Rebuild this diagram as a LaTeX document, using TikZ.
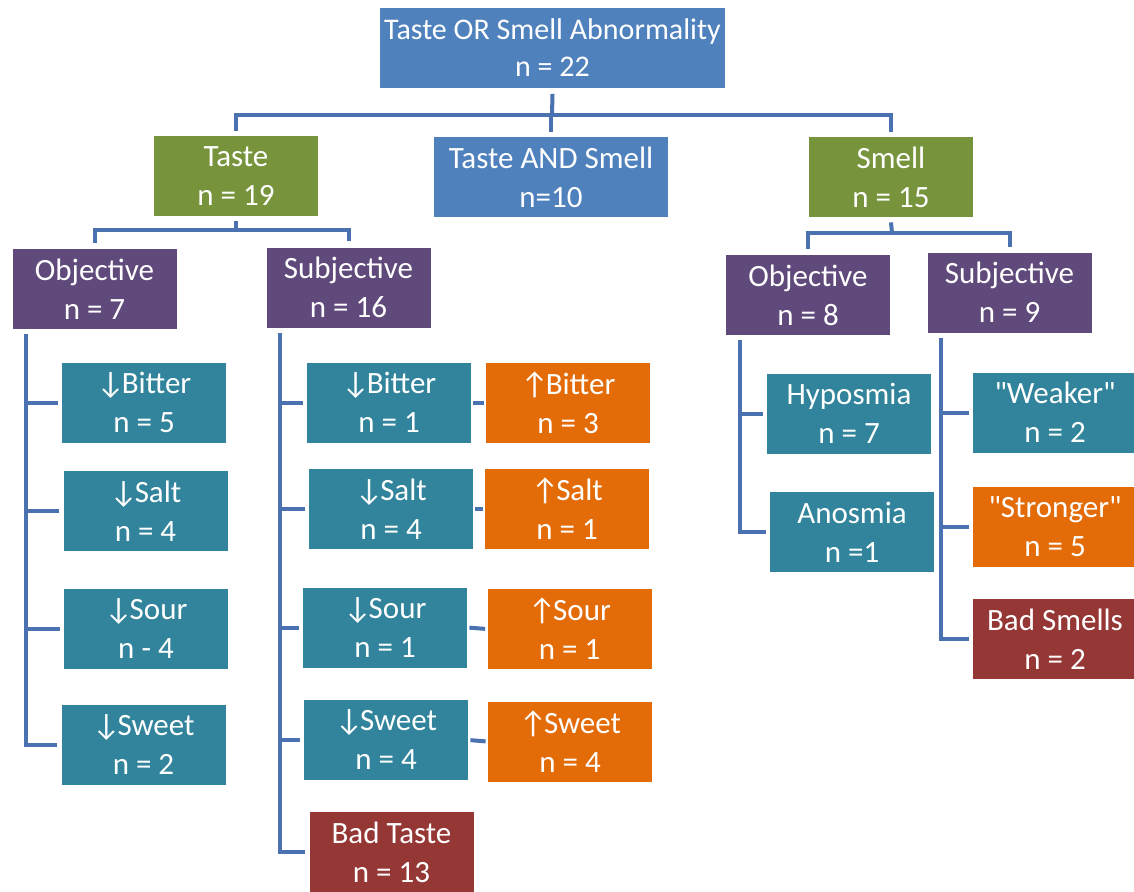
\documentclass[tikz,border=0pt]{standalone}
\usepackage{fontspec}
\setmainfont{Carlito}[Ligatures=TeXOff]
\usetikzlibrary{calc}
\definecolor{topblue}{HTML}{4F81BD}
\definecolor{groupgreen}{HTML}{77933C}
\definecolor{kindpurple}{HTML}{604A7B}
\definecolor{lowteal}{HTML}{31849B}
\definecolor{highorange}{HTML}{E36C09}
\definecolor{badred}{HTML}{953735}
\definecolor{linkblue}{HTML}{4A72B0}
\newcommand{\lessof}{↓\kern-1.5pt}
\newcommand{\moreof}{↑\kern-1.5pt}

\begin{document}
\begin{tikzpicture}[
        x=0.5pt, y=-0.5pt,
        box/.style={rectangle,fill=#1,text=white,align=center,inner sep=0pt,
            minimum width=82pt,minimum height=40pt,
            font=\fontsize{15.5pt}{19.5pt}\selectfont},
        link/.style={draw=linkblue,line width=2pt},
    ]
    \useasboundingbox (0,0) rectangle (1134,891);

    % top levels
    \node[box=topblue,minimum width=172.5pt,text depth=-10pt,
          font=\fontsize{15pt}{18.5pt}\selectfont] (root) at (552.5,47.5) {Taste OR Smell Abnormality\\n = 22};
    \node[box=groupgreen] (taste) at (236,176) {Taste\\n = 19};
    \node[box=topblue,minimum width=117pt] (both) at (551,177) {Taste AND Smell\\n=10};
    \node[box=groupgreen] (smell) at (891,177) {Smell\\n = 15};

    \node[box=kindpurple] (tobj) at (94.5,289) {Objective\\n = 7};
    \node[box=kindpurple] (tsubj) at (348.5,287.5) {Subjective\\n = 16};
    \node[box=kindpurple] (sobj) at (808,295) {Objective\\n = 8};
    \node[box=kindpurple] (ssubj) at (1009.5,292.5) {Subjective\\n = 9};

    % taste, objective
    \node[box=lowteal] (ob1) at (144,402.5) {\lessof Bitter\\n = 5};
    \node[box=lowteal] (ob2) at (145.5,511) {\lessof Salt\\n = 4};
    \node[box=lowteal] (ob3) at (146,629) {\lessof Sour\\n - 4};
    \node[box=lowteal] (ob4) at (143.5,744.5) {\lessof Sweet\\n = 2};

    % taste, subjective
    \node[box=lowteal] (sd1) at (389,402.5) {\lessof Bitter\\n = 1};
    \node[box=highorange] (su1) at (568,402.5) {\moreof Bitter\\n = 3};
    \node[box=lowteal] (sd2) at (391,509) {\lessof Salt\\n = 4};
    \node[box=highorange] (su2) at (567,509) {\moreof Salt\\n = 1};
    \node[box=lowteal] (sd3) at (385,627.5) {\lessof Sour\\n = 1};
    \node[box=highorange] (su3) at (569.5,629) {\moreof Sour\\n = 1};
    \node[box=lowteal] (sd4) at (386,740) {\lessof Sweet\\n = 4};
    \node[box=highorange] (su4) at (570,741.5) {\moreof Sweet\\n = 4};
    \node[box=badred] (sd5) at (391.5,852) {Bad Taste\\n = 13};

    % smell
    \node[box=lowteal] (hypo) at (849,413.5) {Hyposmia\\n = 7};
    \node[box=lowteal] (anos) at (852,532) {Anosmia\\n =1};
    \node[box=lowteal] (weak) at (1055,412.5) {"Weaker"\\n = 2};
    \node[box=highorange] (strong) at (1055,527) {"Stronger"\\n = 5};
    \node[box=badred] (badsm) at (1055,639) {Bad Smells\\n = 2};

    % buses
    \coordinate (rbus) at (552,115);
    \draw[link] ([yshift=-3pt]root.south) -- (rbus);
    \draw[link] ([yshift=2.5pt]taste.north) |- (rbus);
    \draw[link] ([yshift=2.5pt]smell.north) |- (rbus);
    \draw[link] ([yshift=2.5pt]both.north) -- (both.north |- rbus);

    \coordinate (tbus) at (236,230);
    \draw[link] ([yshift=-2.5pt]taste.south) -- (tbus);
    \draw[link] ([yshift=3pt]tobj.north) |- (tbus);
    \draw[link] ([yshift=3pt]tsubj.north) |- (tbus);

    \coordinate (sbus) at (892,233);
    \draw[link] ([yshift=-2.5pt]smell.south) -- (sbus);
    \draw[link] ([yshift=3pt]sobj.north) |- (sbus);
    \draw[link] ([yshift=2.5pt]ssubj.north) |- (sbus);

    % stems
    \coordinate (tobjs) at ($(tobj.south west)+(14,5)$);
    \draw[link] (tobjs) |- ([xshift=-2pt]ob4.west);
    \foreach \c in {ob1,ob2,ob3}
        \draw[link] (tobjs |- \c.west) -- ([xshift=-2pt]\c.west);

    \coordinate (tsubjs) at ($(tsubj.south west)+(14,5)$);
    \draw[link] (tsubjs) |- ([xshift=-2pt]sd5.west);
    \foreach \c in {sd1,sd2,sd3,sd4}
        \draw[link] (tsubjs |- \c.west) -- ([xshift=-2pt]\c.west);
    \foreach \i in {1,...,4}
        \draw[link,shorten <=1pt,shorten >=1pt] (sd\i.east) -- (su\i.west);

    \coordinate (sobjs) at ($(sobj.south west)+(14,5)$);
    \draw[link] (sobjs) |- ([xshift=-2pt]anos.west);
    \draw[link] (sobjs |- hypo.west) -- ([xshift=-2pt]hypo.west);

    \coordinate (ssubjs) at ($(ssubj.south west)+(14,5)$);
    \draw[link] (ssubjs) |- ([xshift=-2pt]badsm.west);
    \foreach \c in {weak,strong}
        \draw[link] (ssubjs |- \c.west) -- ([xshift=-2pt]\c.west);
\end{tikzpicture}
\end{document}
